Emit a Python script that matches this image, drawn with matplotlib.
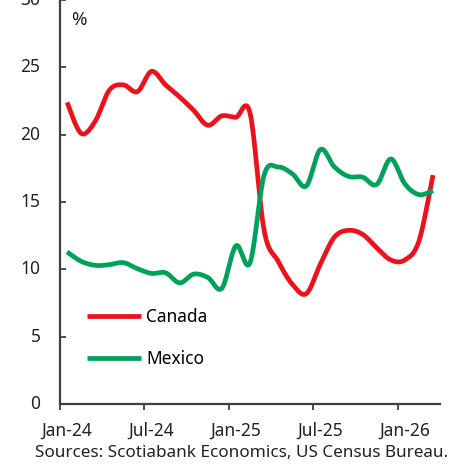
import numpy as np
import matplotlib
matplotlib.use("Agg")
import matplotlib.pyplot as plt

# monthly values, Jan-24 .. Mar-26
months = ["Jan-24", "Feb-24", "Mar-24", "Apr-24", "May-24", "Jun-24",
          "Jul-24", "Aug-24", "Sep-24", "Oct-24", "Nov-24", "Dec-24",
          "Jan-25", "Feb-25", "Mar-25", "Apr-25", "May-25", "Jun-25",
          "Jul-25", "Aug-25", "Sep-25", "Oct-25", "Nov-25", "Dec-25",
          "Jan-26", "Feb-26", "Mar-26"]
canada = [22.4, 20.1, 21.0, 23.3, 23.7, 23.2, 24.7, 23.7, 22.8, 21.8,
          20.7, 21.4, 21.3, 21.6, 12.9, 10.6, 8.9, 8.2, 10.4, 12.4,
          12.9, 12.6, 11.6, 10.7, 10.7, 12.1, 17.0]
mexico = [11.3, 10.6, 10.3, 10.35, 10.5, 10.05, 9.7, 9.75, 9.0, 9.65,
          9.4, 8.6, 11.75, 10.5, 17.0, 17.6, 17.1, 16.2, 18.9, 17.6,
          16.9, 16.85, 16.3, 18.2, 16.35, 15.55, 15.85]

RED = "#EC111A"
GREEN = "#00A15A"

plt.rcParams["font.family"] = ["Noto Sans", "DejaVu Sans"]


def smooth(x, y, n=20):
    # Excel-style smoothed line (bezier through every point)
    x = np.asarray(x, float)
    y = np.asarray(y, float)
    px = np.concatenate([[x[0]], x, [x[-1]]])
    py = np.concatenate([[y[0]], y, [y[-1]]])
    xs, ys = [], []
    t = np.linspace(0, 1, n, endpoint=False)
    for i in range(1, len(px) - 2):
        p0 = np.array([px[i], py[i]])
        p3 = np.array([px[i + 1], py[i + 1]])
        p1 = p0 + (p3 - np.array([px[i - 1], py[i - 1]])) / 6
        p2 = p3 - (np.array([px[i + 2], py[i + 2]]) - p0) / 6
        b = ((1 - t) ** 3)[:, None] * p0 + (3 * (1 - t) ** 2 * t)[:, None] * p1 \
            + (3 * (1 - t) * t ** 2)[:, None] * p2 + (t ** 3)[:, None] * p3
        xs.extend(b[:, 0])
        ys.extend(b[:, 1])
    xs.append(x[-1])
    ys.append(y[-1])
    return xs, ys


fig = plt.figure(figsize=(4.66, 4.65), dpi=100)
ax = fig.add_axes([0.1288, 0.131, 0.8155, 0.869])

idx = np.arange(len(months))
ax.plot(*smooth(idx, canada), color=RED, lw=3.4, label="Canada",
        solid_capstyle="butt")
ax.plot(*smooth(idx, mexico), color=GREEN, lw=3.4, label="Mexico",
        solid_capstyle="butt")

ax.set_xlim(-0.5, len(months) - 0.5)
ax.set_ylim(0, 29.72)
ax.set_yticks(range(0, 31, 5))

ax.set_xticks(np.arange(-0.5, len(months) - 1, 6))
ax.set_xticklabels([])
ax.set_xticks(idx[::6], minor=True)
ax.set_xticklabels(months[::6], minor=True)
ax.tick_params(axis="x", which="major", direction="out", length=4,
               width=1.3, color="#404040")
ax.tick_params(axis="x", which="minor", length=0, pad=13, labelsize=12.5,
               labelcolor="#222222")
ax.tick_params(axis="y", direction="in", length=4, width=1.3,
               color="#404040", pad=14, labelsize=12.5, labelcolor="#222222")
for lab in ax.get_yticklabels():
    lab.set_va("center")

for s in ["top", "right"]:
    ax.spines[s].set_visible(False)
for s in ["left", "bottom"]:
    ax.spines[s].set_color("#404040")
    ax.spines[s].set_linewidth(1.6)

ax.text(0.029, 0.951, "%", transform=ax.transAxes, fontsize=13.5,
        color="#222222", va="center", ha="left")

ax.legend(loc="lower left", bbox_to_anchor=(0.053, 0.072), frameon=False,
          fontsize=12.5, handlelength=3.1, handletextpad=0.3,
          labelspacing=1.38, borderaxespad=0)

fig.text(0.518, 0.026, "Sources: Scotiabank Economics, US Census Bureau.",
         fontsize=12.3, color="#222222", ha="center", va="center")

fig.savefig("out.png", dpi=100)
